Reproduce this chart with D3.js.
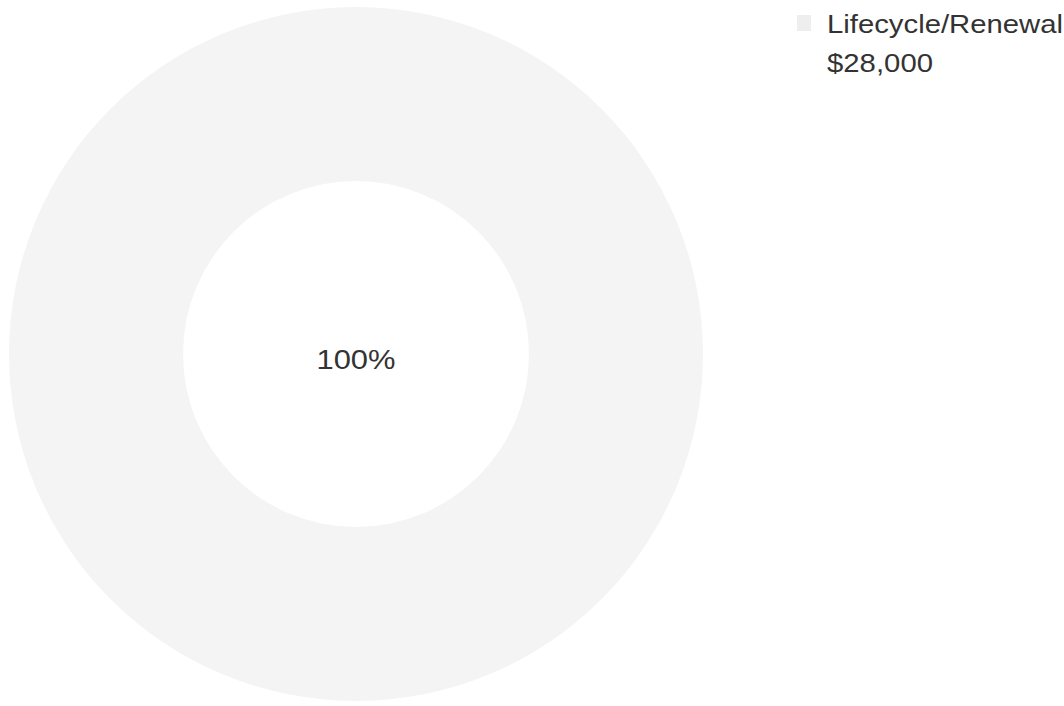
<!DOCTYPE html>
<meta charset="utf-8">
<style>
body { margin: 0; background: #fff; }
text { font-family: "Liberation Sans", Arial, sans-serif; fill: #333; }
</style>
<svg width="1064" height="706" id="svg"></svg>
<script src="https://d3js.org/d3.v7.min.js"></script>
<script>

var categories = ["Lifecycle/Renewal"];
var amounts = [28000];
var colors = ["#f4f4f4"];

var svg = d3.select("svg"),
    width = +svg.attr("width"),
    height = +svg.attr("height");

var cx = 356, cy = 354,
    outer = 347, inner = 173;

var total = d3.sum(amounts);
var pie = d3.pie().sort(null);
var arc = d3.arc().innerRadius(inner).outerRadius(outer);

var g = svg.append("g")
    .attr("transform", "translate(" + cx + "," + cy + ")");

g.selectAll("path")
    .data(pie(amounts))
    .enter().append("path")
      .attr("d", arc)
      .attr("fill", function(d, i) { return colors[i]; });

// percent label in the hole
g.selectAll("text.pct")
    .data(pie(amounts))
    .enter().append("text")
      .attr("class", "pct")
      .attr("text-anchor", "middle")
      .attr("y", 15)
      .attr("font-size", "27px")
      .attr("textLength", 79)
      .attr("lengthAdjust", "spacingAndGlyphs")
      .text(function(d) { return d3.format(".0%")(d.value / total); });

var money = d3.format("$,.0f");

var legend = svg.append("g")
    .selectAll("g")
    .data(categories)
    .enter().append("g")
      .attr("transform", function(d, i) { return "translate(797," + (15 + i * 80) + ")"; });

legend.append("rect")
    .attr("width", 14)
    .attr("height", 16)
    .attr("fill", "#eeeeee");

legend.append("text")
    .attr("x", 30)
    .attr("y", 18)
    .attr("font-size", "25px")
    .attr("textLength", 236)
    .attr("lengthAdjust", "spacingAndGlyphs")
    .text(function(d) { return d; });

legend.append("text")
    .attr("x", 30)
    .attr("y", 57)
    .attr("font-size", "25px")
    .attr("textLength", 106)
    .attr("lengthAdjust", "spacingAndGlyphs")
    .text(function(d, i) { return money(amounts[i]); });

</script>
